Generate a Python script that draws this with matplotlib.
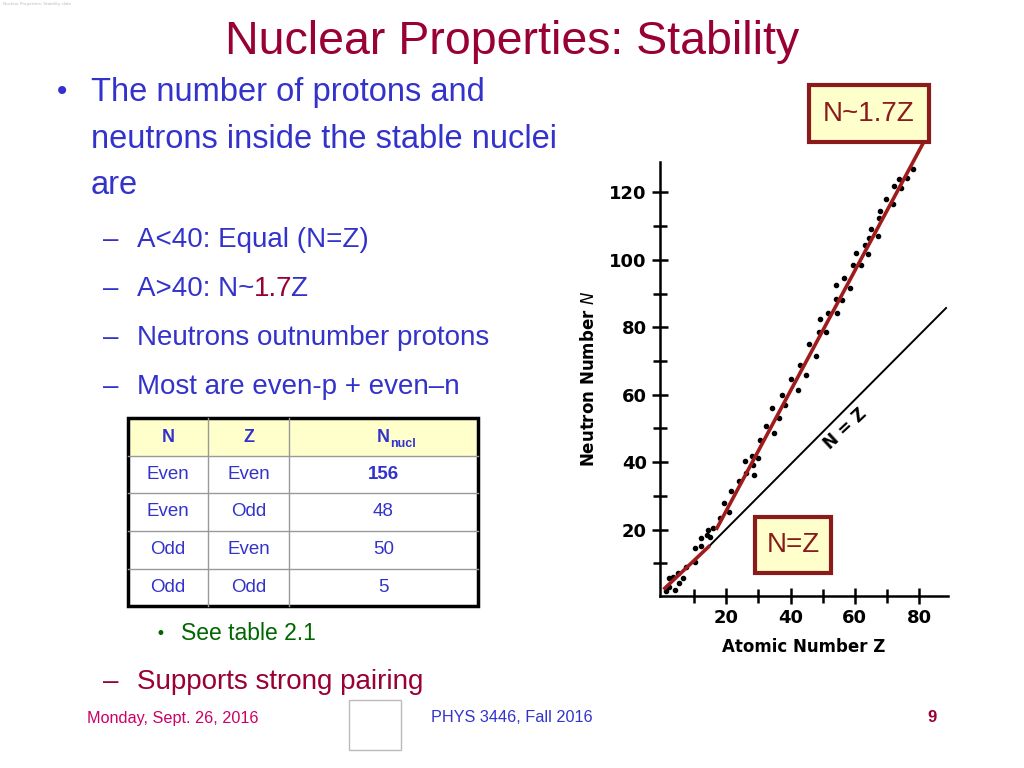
import matplotlib
matplotlib.use("Agg")
import matplotlib.pyplot as plt
from matplotlib.patches import Rectangle

Z = [1.25,2.3,4.1,5.4,2.3,3.5,5.1,6.7,7.5,10.3,10.3,12.1,12.1,14.0,14.3,15.0,16.0,18.1,19.4,21.0,21.5,23.9,25.9,26.1,28.0,28.3,28.5,29.9,30.6,32.4,34.3,34.8,36.4,37.4,38.4,40.2,42.3,43.1,44.7,45.7,47.8,49.2,48.9,50.9,51.7,54.2,54.2,54.4,56.1,56.7,58.5,59.3,60.3,61.9,63.2,64.0,64.5,65.0,67.1,67.6,67.9,69.7,71.8,72.3,73.9,74.4,76.3,78.0]
N = [1.9,3.1,2.1,4.1,5.5,6.0,7.0,5.5,9.0,10.5,14.5,17.4,15.0,18.4,19.9,17.9,20.4,23.4,27.8,25.3,31.3,34.3,40.2,36.7,41.7,39.2,36.2,41.2,46.6,50.6,56.0,48.6,53.1,60.0,56.8,64.7,61.5,68.9,65.9,74.9,71.4,82.3,78.5,78.5,84.1,92.4,88.4,84.3,88.2,94.7,91.7,98.6,102.1,98.6,104.3,101.6,106.5,109.0,107.0,112.5,114.5,117.9,116.4,121.9,123.9,121.4,124.4,127.0]
fit_low_Z = [0.9, 14.5]; fit_low_N = [2.6, 14.9]
fit_high_Z = [17.1, 81.1]; fit_high_N = [20.4, 134.3]
nz_Z = [14.5, 88.4]; nz_N = [14.9, 85.7]
x_ticks = [20, 40, 60, 80]
y_ticks = [20, 40, 60, 80, 100, 120]
table_header = ["N", "Z", "N"]
table_rows = [["Even", "Even", "156"], ["Even", "Odd", "48"], ["Odd", "Even", "50"], ["Odd", "Odd", "5"]]

RED = "#990033"; BLUE = "#3333CC"; YEL = "#FFFFCC"; DR = "#8B1A1A"
FN = ["Liberation Sans Narrow", "Liberation Sans", "DejaVu Sans"]

fig = plt.figure(figsize=(10.24, 7.68), dpi=100)
fig.patch.set_facecolor("white")

ax = fig.add_axes([660/1024, 1-596/768, 288/1024, 434/768])
ax.set_xlim(-0.6, 89)
ax.set_ylim(0.3, 129)
for s in ["top", "right"]:
    ax.spines[s].set_visible(False)
for s in ["left", "bottom"]:
    ax.spines[s].set_linewidth(1.8)
ax.set_xticks(x_ticks); ax.set_yticks(y_ticks)
ax.set_xticks(range(10, 90, 10), minor=True)
ax.set_yticks(range(10, 130, 10), minor=True)
ax.tick_params(which="both", direction="inout", length=12, width=1.8, labelsize=13)
ax.tick_params(which="minor", length=10)
for lab in ax.get_xticklabels() + ax.get_yticklabels():
    lab.set_fontweight("bold")
ax.set_xlabel("Atomic Number Z", fontsize=12, fontweight="bold", labelpad=8)
ax.set_ylabel("Neutron Number $N$", fontsize=12, fontweight="bold", labelpad=8)
ax.plot(nz_Z, nz_N, color="black", lw=1.4)
ax.scatter(Z, N, s=9, color="black", zorder=3, clip_on=False)
ax.plot(fit_low_Z, fit_low_N, color="#A01C1C", lw=2.6, zorder=4)
ax.plot(fit_high_Z, fit_high_N, color="#A01C1C", lw=2.6, zorder=4, clip_on=False)
ax.text(57, 50, "N = Z", rotation=43, fontsize=12, fontweight="bold", ha="center", va="center")

ov = fig.add_axes([0, 0, 1, 1], zorder=5)
ov.set_xlim(0, 1024); ov.set_ylim(768, 0); ov.axis("off"); ov.patch.set_alpha(0)

ov.text(512, 42, "Nuclear Properties: Stability", color=RED, fontsize=33.5, family=FN, ha="center", va="center")
ov.text(62, 92, "•", color=BLUE, fontsize=20, va="center", ha="center")
for i, line in enumerate(["The number of protons and", "neutrons inside the stable nuclei", "are"]):
    ov.text(91, 92 + 47*i, line, color=BLUE, fontsize=23.5, family=FN, va="center")
subs = ["A<40: Equal (N=Z)", None, "Neutrons outnumber protons", "Most are even-p + even–n"]
for i, line in enumerate(subs):
    y = 240 + 49*i
    ov.text(103, y, "–", color=BLUE, fontsize=20, family=FN, va="center")
    if line:
        ov.text(137, y, line, color=BLUE, fontsize=20, family=FN, va="center")
t = ov.text(137, 289, "A>40: N~", color=BLUE, fontsize=20, family=FN, va="center")
fig.canvas.draw()
bb = t.get_window_extent()
t2 = ov.text(137 + bb.width - 1, 289, "1.7", color=RED, fontsize=20, family=FN, va="center")
fig.canvas.draw()
bb2 = t2.get_window_extent()
ov.text(137 + bb.width + bb2.width - 3, 289, "Z", color=BLUE, fontsize=20, family=FN, va="center")

cols = [128, 208, 289, 478]
rows = [418, 456, 493, 531, 569, 606]
ov.add_patch(Rectangle((128, 418), 350, 38, facecolor=YEL, edgecolor="none"))
for y in rows[1:-1]:
    ov.plot([128, 478], [y, y], color="#999999", lw=1)
for x in cols[1:-1]:
    ov.plot([x, x], [418, 606], color="#999999", lw=1)
ov.add_patch(Rectangle((128, 418), 350, 188, facecolor="none", edgecolor="black", lw=2.5))
centers = [(cols[i]+cols[i+1])/2 for i in range(3)]
for i, h in enumerate(table_header):
    ov.text(centers[i], 437, h, color=BLUE, fontsize=13, family=FN, ha="center", va="center", fontweight="bold")
ov.text(centers[2]+7, 444, "nucl", color=BLUE, fontsize=9, family=FN, ha="left", va="center", fontweight="bold")
for r, row in enumerate(table_rows):
    yc = (rows[r+1]+rows[r+2])/2
    for c, v in enumerate(row):
        ov.text(centers[c], yc, v, color=BLUE, fontsize=13.5, family=FN, ha="center", va="center",
                fontweight="bold" if (r == 0 and c == 2) else "normal")

ov.text(160, 634, "•", color="#006600", fontsize=12, ha="center", va="center")
ov.text(181, 634, "See table 2.1", color="#006600", fontsize=16.5, family=FN, va="center")
ov.text(103, 682, "–", color=RED, fontsize=20, family=FN, va="center")
ov.text(137, 682, "Supports strong pairing", color=RED, fontsize=20, family=FN, va="center")

ov.add_patch(Rectangle((809, 85), 120, 57, facecolor=YEL, edgecolor=DR, lw=3))
ov.text(869, 114, "N~1.7Z", color=DR, fontsize=20, family=FN, ha="center", va="center")
ov.add_patch(Rectangle((755, 517), 76, 56, facecolor=YEL, edgecolor=DR, lw=3))
ov.text(793, 545, "N=Z", color=DR, fontsize=20, family=FN, ha="center", va="center")

ov.text(87, 718, "Monday, Sept. 26, 2016", color="#CC0066", fontsize=11.7, family=FN, va="center")
ov.text(512, 718, "PHYS 3446, Fall 2016", color=BLUE, fontsize=11.7, family=FN, ha="center", va="center")
ov.text(932, 718, "9", color=RED, fontsize=12, family=FN, ha="center", va="center", fontweight="bold")
ov.add_patch(Rectangle((349, 700), 52, 50, facecolor="white", edgecolor="#BBBBBB", lw=1))
ov.text(3, 4, "Nuclear Properties: Stability slide", color="#BBBBBB", fontsize=3, va="center")

fig.savefig("out.png", dpi=100)
